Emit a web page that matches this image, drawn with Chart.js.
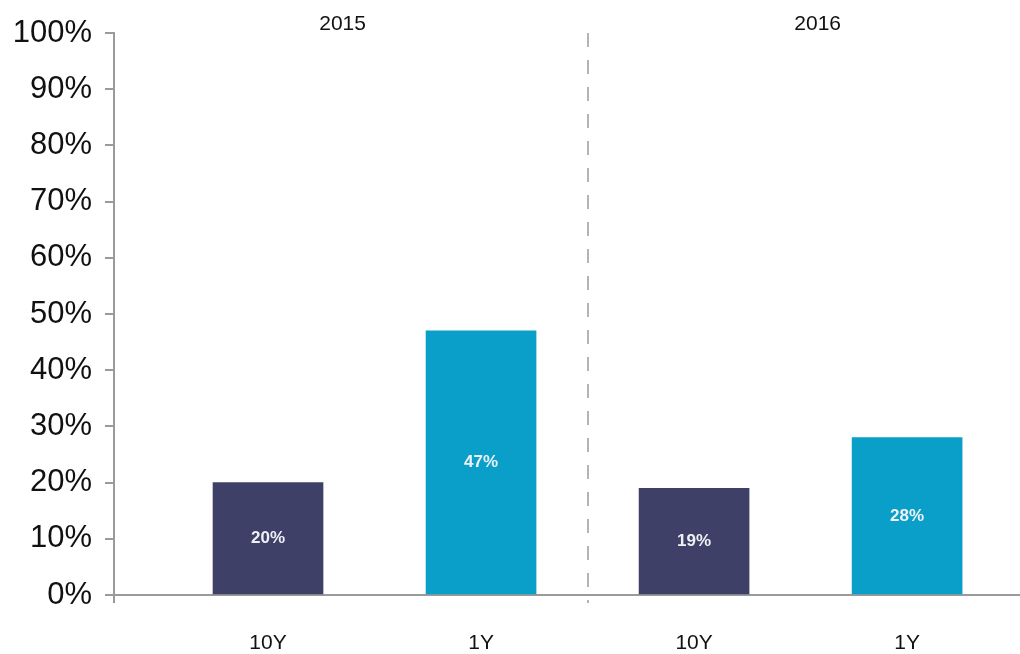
<!DOCTYPE html>
<html>
<head>
<meta charset="utf-8">
<script src="https://cdn.jsdelivr.net/npm/chart.js@4.4.1/dist/chart.umd.min.js"></script>
<style>
html,body{margin:0;padding:0;background:#fff;}
#wrap{width:1020px;height:654px;position:relative;}
</style>
</head>
<body>
<div id="wrap"><canvas id="c"></canvas></div>
<script>
const categories = ['10Y', '1Y', '10Y', '1Y'];
const values = [20, 47, 19, 28];
const groups = ['2015', '2016'];
const groupCenters = [0.35, 2.58];   // in category units
const dividerAt = 1.5;
const yTicks = [0, 10, 20, 30, 40, 50, 60, 70, 80, 90, 100];

const NAVY = '#3f4068';
const TEAL = '#0a9fc9';
const AXIS = '#9a9a9a';
const FONT = '"Liberation Sans", Arial, Helvetica, sans-serif';

const barColors = categories.map(c => c === '10Y' ? NAVY : TEAL);

const extras = {
  id: 'extras',
  afterDatasetsDraw(chart) {
    const ctx = chart.ctx;
    const a = chart.chartArea;
    const xs = chart.scales.x;
    ctx.save();
    // value labels
    ctx.font = 'bold 17px ' + FONT;
    ctx.fillStyle = '#eef1f4';
    ctx.textAlign = 'center';
    ctx.textBaseline = 'middle';
    chart.getDatasetMeta(0).data.forEach((bar, i) => {
      ctx.fillText(values[i] + '%', bar.x, (bar.y + bar.base) / 2);
    });
    // divider
    const dx = Math.round(xs.getPixelForValue(dividerAt));
    ctx.strokeStyle = '#b4b4b4';
    ctx.lineWidth = 2;
    ctx.setLineDash([14, 13]);
    ctx.beginPath();
    ctx.moveTo(dx, a.top);
    ctx.lineTo(dx, a.bottom + 8);
    ctx.stroke();
    ctx.setLineDash([]);
    // y axis extension below x axis
    ctx.strokeStyle = AXIS;
    ctx.beginPath();
    ctx.moveTo(a.left, a.bottom);
    ctx.lineTo(a.left, a.bottom + 8);
    ctx.stroke();
    // group labels
    ctx.font = '21px ' + FONT;
    ctx.fillStyle = '#111';
    groups.forEach((g, i) => {
      ctx.fillText(g, xs.getPixelForValue(groupCenters[i]), a.top - 9);
    });
    ctx.restore();
  }
};

new Chart(document.getElementById('c'), {
  type: 'bar',
  data: {
    datasets: [{
      data: values.map((v, i) => ({ x: i, y: v })),
      backgroundColor: barColors,
      borderWidth: 0,
      barThickness: 110
    }]
  },
  options: {
    responsive: true,
    maintainAspectRatio: false,
    animation: false,
    layout: { padding: { top: 33, left: 0, right: 0, bottom: 0 } },
    plugins: { legend: { display: false }, tooltip: { enabled: false } },
    scales: {
      x: {
        type: 'linear',
        offset: false,
        bounds: 'ticks',
        min: -0.723,
        max: 3.53,
        afterBuildTicks: s => { s.ticks = categories.map((c, i) => ({ value: i })); },
        afterFit: s => { s.height = 59; },
        ticks: {
          callback: v => categories[v],
          font: { family: FONT, size: 21 },
          color: '#111',
          padding: 36,
          maxRotation: 0,
          autoSkip: false
        },
        grid: { display: false, drawTicks: false },
        border: { display: true, color: AXIS, width: 2 }
      },
      y: {
        min: 0,
        max: 100,
        afterBuildTicks: s => { s.ticks = yTicks.map(v => ({ value: v })); },
        afterFit: s => { s.width = 114; },
        ticks: {
          callback: v => v + '%',
          font: { family: FONT, size: 31 },
          color: '#111',
          padding: 13
        },
        grid: { drawOnChartArea: false, drawTicks: true, tickLength: 9, color: AXIS, lineWidth: 2 },
        border: { display: true, color: AXIS, width: 2 }
      }
    }
  },
  plugins: [extras]
});
</script>
</body>
</html>
